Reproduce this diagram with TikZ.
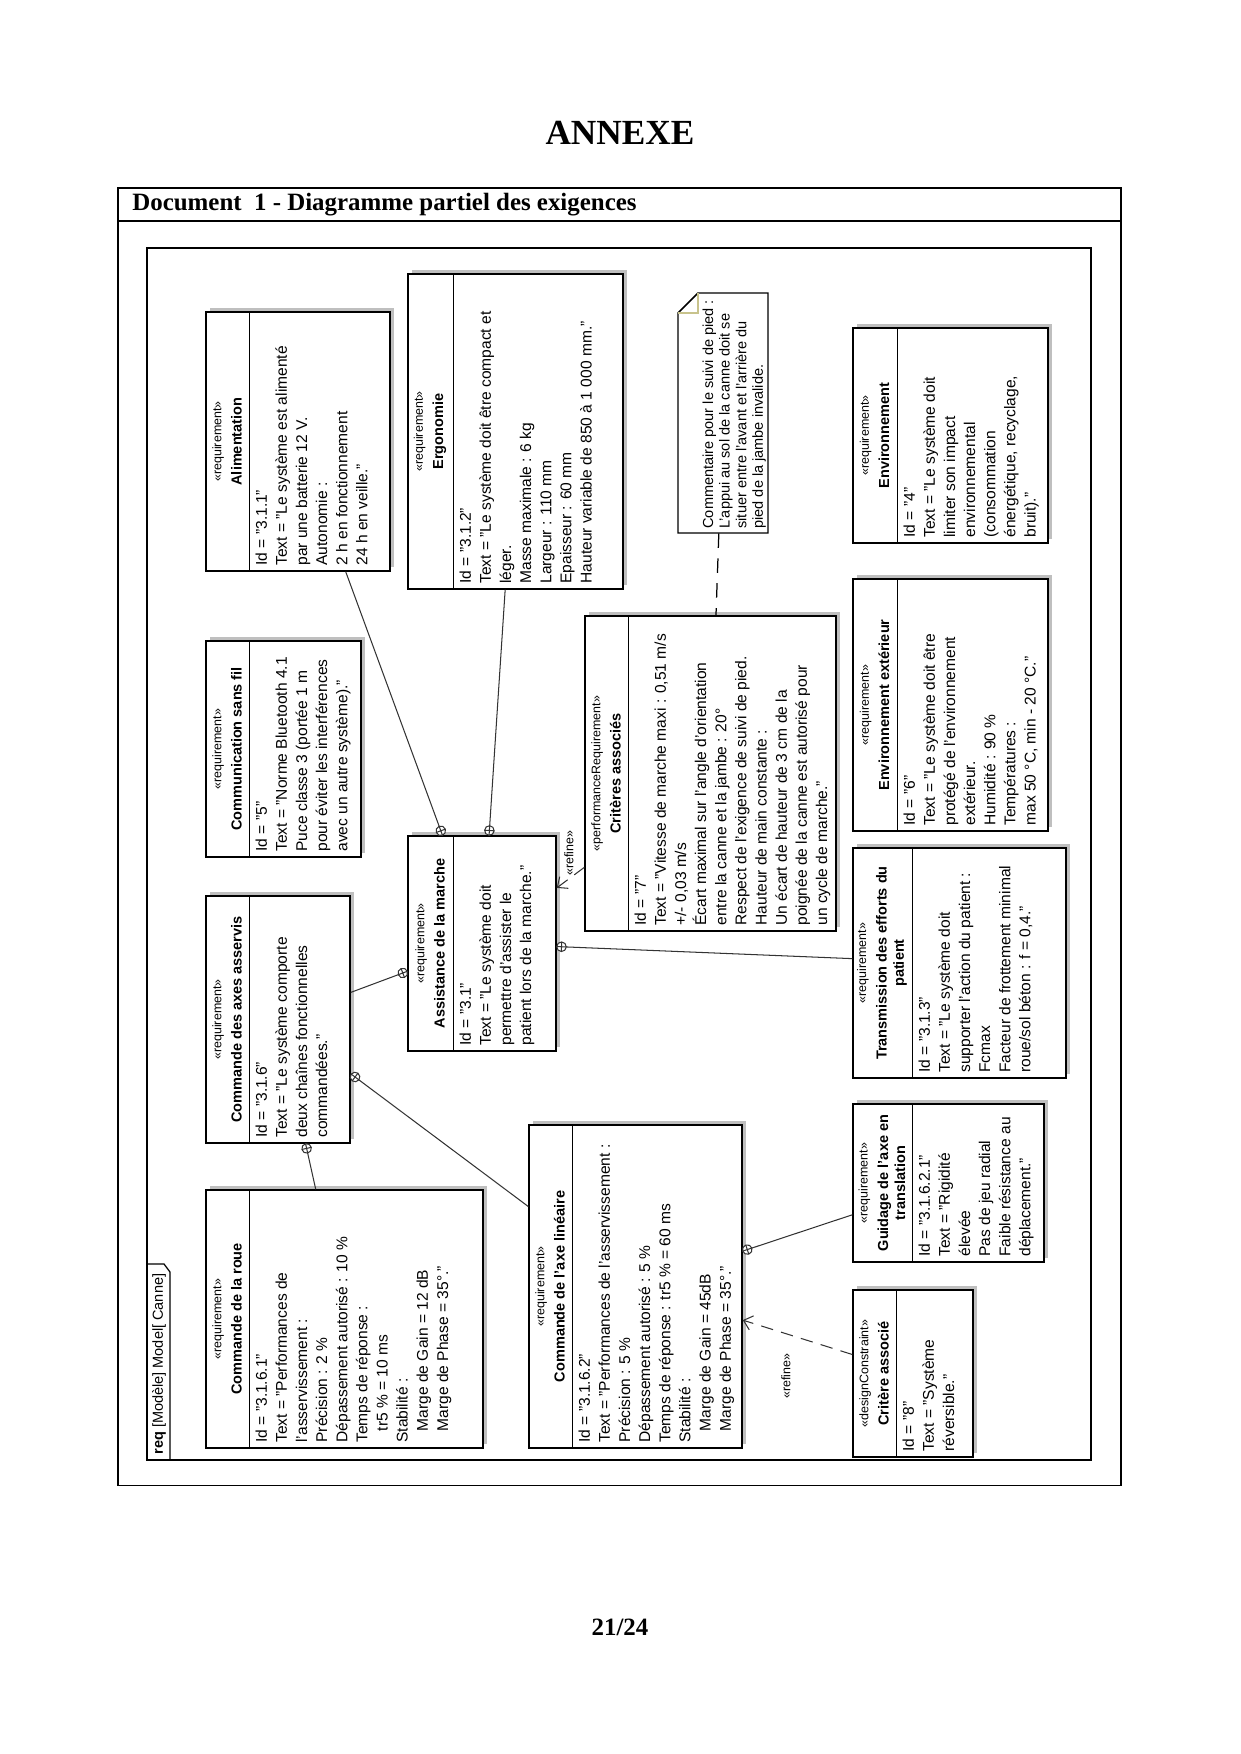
\documentclass[tikz,border=0pt]{standalone}
\usepackage{fontspec}
\setmainfont{Liberation Serif}
\setsansfont{Liberation Sans}
\usetikzlibrary{arrows.meta,fit,shadows,decorations.markings}
\definecolor{foldline}{RGB}{200,195,140}
\newcommand{\stereo}[1]{{\fontsize{6}{8.5}\selectfont\mdseries «#1»}\\[1.5pt]}

\begin{document}
\begin{tikzpicture}[x=0.016935cm,y=-0.016935cm,>={Straight Barb[length=4pt,width=7pt]},
  reqbox/.style={draw,line width=0.7pt,fill=white,inner sep=0pt,
    drop shadow={shadow xshift=2pt,shadow yshift=2pt,fill=black!25,opacity=1}},
  head/.style={rotate=90,align=center,inner sep=0pt,font=\sffamily\bfseries\fontsize{7}{8.3}\selectfont},
  body/.style={rotate=90,anchor=north west,align=left,inner xsep=1pt,inner ysep=2pt,
    font=\sffamily\fontsize{7.5}{9.7}\selectfont},
  contain/.style={line width=0.5pt,black!80,postaction={decorate},
    decoration={markings,mark=at position 1 with {
      \draw[fill=white] (-2.3pt,0) circle (2.3pt);
      \draw (-4.6pt,0) -- (0,0) (-2.3pt,-2.3pt) -- (-2.3pt,2.3pt);}}},
  refine/.style={line width=0.5pt,black!80,dash pattern=on 6pt off 4pt,->},
  notelink/.style={line width=0.6pt,dash pattern=on 7pt off 5pt},
  tag/.style={rotate=90,inner sep=0pt,font=\sffamily\fontsize{6}{7}\selectfont}]
\useasboundingbox (0,0) rectangle (1240,1754);

% titles and frames
\node[font=\bfseries\fontsize{17}{20}\selectfont] (annexe) at (620,133) {ANNEXE};
\node[anchor=west,inner sep=0pt,font=\bfseries\fontsize{12}{14}\selectfont] (doctitle) at (132,205)
  {Document\ \ 1 - Diagramme partiel des exigences};
\draw[line width=0.5pt] (118,188) rectangle (1121,1485);
\draw[line width=0.5pt] (118,221) -- (1121,221);
\draw[line width=0.8pt] (147,248) rectangle (1091,1460);
\draw[line width=0.6pt] (147,1264) -- (164,1264) -- (170,1272) -- (170,1460);
\node[tag,anchor=west,font=\sffamily\fontsize{7}{8}\selectfont] (frametag) at (159,1455)
  {\textbf{req} [Modèle] Model[ Canne]};
\node[font=\bfseries\fontsize{12}{14}\selectfont] (pagenum) at (620,1627) {21/24};

% Alimentation
\node[reqbox,fit={(206,312) (390,571)}] (alim) {};
\draw (249,312) -- (249,571);
\node[head] (alimH) at (227,441.5) {\stereo{requirement}Alimentation};
\node[body] (alimB) at (251,568) {Id = "3.1.1"\\Text = "Le système est alimenté\\par une batterie 12 V.\\Autonomie :\\2 h en fonctionnement\\24 h en veille."};

% Ergonomie
\node[reqbox,fit={(408,274) (623,589)}] (ergo) {};
\draw (453,274) -- (453,589);
\node[head] (ergoH) at (430,431.5) {\stereo{requirement}Ergonomie};
\node[body] (ergoB) at (455,586) {Id = "3.1.2"\\Text = "Le système doit être compact et\\léger.\\Masse maximale : 6 kg\\Largeur : 110 mm\\Epaisseur : 60 mm\\Hauteur variable de 850 à 1 000 mm."};

% Commentaire
\node[fit={(678,293) (768,533)},inner sep=0pt] (note) {};
\draw[line width=0.7pt,fill=white] (678,313) -- (698,293) -- (768,293) -- (768,533) -- (678,533) -- cycle;
\draw[foldline,line width=0.6pt] (678,313) -- (698,313) -- (698,293);
\node[body,font=\sffamily\fontsize{7}{8}\selectfont] (noteB) at (698,531) {Commentaire pour le suivi de pied :\\L'appui au sol de la canne doit se\\situer entre l'avant et l'arrière du\\pied de la jambe invalide.};

% Environnement
\node[reqbox,fit={(853,328) (1048,543)}] (envir) {};
\draw (897,328) -- (897,543);
\node[head] (envirH) at (874.5,435.5) {\stereo{requirement}Environnement};
\node[body] (envirB) at (899,540) {Id = "4"\\Text = "Le système doit\\limiter son impact\\environnemental\\(consommation\\énergétique, recyclage,\\bruit)."};

% Communication sans fil
\node[reqbox,fit={(206,641) (361,857)}] (comm) {};
\draw (249,641) -- (249,857);
\node[head] (commH) at (227,749) {\stereo{requirement}Communication sans fil};
\node[body] (commB) at (251,854) {Id = "5"\\Text = "Norme Bluetooth 4.1\\Puce classe 3 (portée 1 m\\pour éviter les interférences\\avec un autre système)."};

% Criteres associes
\node[reqbox,fit={(585,616) (836,931)}] (crit) {};
\draw (628,616) -- (628,931);
\node[head] (critH) at (606,773.5) {\stereo{performanceRequirement}Critères associés};
\node[body] (critB) at (630,928) {Id = "7"\\Text = "Vitesse de marche maxi : 0,51 m/s\\+/- 0,03 m/s\\Écart maximal sur l'angle d'orientation\\entre la canne et la jambe : 20°\\Respect de l'exigence de suivi de pied.\\Hauteur de main constante :\\Un écart de hauteur de 3 cm de la\\poignée de la canne est autorisé pour\\un cycle de marche."};

% Environnement exterieur
\node[reqbox,fit={(853,579) (1048,831)}] (envext) {};
\draw (897,579) -- (897,831);
\node[head] (envextH) at (874.5,705) {\stereo{requirement}Environnement extérieur};
\node[body] (envextB) at (899,828) {Id = "6"\\Text = "Le système doit être\\protégé de l'environnement\\extérieur.\\Humidité : 90 \%\\Températures :\\max 50 °C, min - 20 °C."};

% Assistance de la marche
\node[reqbox,fit={(408,836) (556,1051)}] (assist) {};
\draw (453,836) -- (453,1051);
\node[head] (assistH) at (430,943.5) {\stereo{requirement}Assistance de la marche};
\node[body] (assistB) at (455,1048) {Id = "3.1"\\Text = "Le système doit\\permettre d'assister le\\patient lors de la marche."};

% Commande des axes asservis
\node[reqbox,fit={(206,896) (350,1143)}] (axes) {};
\draw (249,896) -- (249,1143);
\node[head] (axesH) at (227,1019.5) {\stereo{requirement}Commande des axes asservis};
\node[body] (axesB) at (251,1140) {Id = "3.1.6"\\Text = "Le système comporte\\deux chaînes fonctionnelles\\commandées."};

% Transmission des efforts
\node[reqbox,fit={(853,848) (1066,1078)}] (trans) {};
\draw (912,848) -- (912,1078);
\node[head] (transH) at (882,963) {\stereo{requirement}Transmission des efforts du\\patient};
\node[body] (transB) at (914,1075) {Id = "3.1.3"\\Text = "Le système doit\\supporter l'action du patient :\\Fcmax\\Facteur de frottement minimal\\roue/sol béton : f = 0,4."};

% Commande de la roue
\node[reqbox,fit={(206,1190) (483,1448)}] (roue) {};
\draw (249,1190) -- (249,1448);
\node[head] (roueH) at (227,1319) {\stereo{requirement}Commande de la roue};
\node[body] (roueB) at (251,1445) {Id = "3.1.6.1"\\Text = "Performances de\\l'asservissement :\\Précision : 2 \%\\Dépassement autorisé : 10 \%\\Temps de réponse :\\\hspace*{5.5pt}tr5 \% = 10 ms\\Stabilité :\\\hspace*{5.5pt}Marge de Gain = 12 dB\\\hspace*{5.5pt}Marge de Phase = 35°."};

% Commande de l'axe lineaire
\node[reqbox,fit={(529,1125) (742,1448)}] (axelin) {};
\draw (572,1125) -- (572,1448);
\node[head] (axelinH) at (550,1286.5) {\stereo{requirement}Commande de l'axe linéaire};
\node[body] (axelinB) at (574,1445) {Id = "3.1.6.2"\\Text = "Performances de l'asservissement :\\Précision : 5 \%\\Dépassement autorisé : 5 \%\\Temps de réponse : tr5 \% = 60 ms\\Stabilité :\\\hspace*{5.5pt}Marge de Gain = 45dB\\\hspace*{5.5pt}Marge de Phase = 35°."};

% Guidage de l'axe en translation
\node[reqbox,fit={(853,1104) (1044,1262)}] (guid) {};
\draw (912,1104) -- (912,1262);
\node[head] (guidH) at (882,1183) {\stereo{requirement}Guidage de l'axe en\\translation};
\node[body] (guidB) at (914,1259) {Id = "3.1.6.2.1"\\Text = "Rigidité\\élevée\\Pas de jeu radial\\Faible résistance au\\déplacement."};

% Critere associe
\node[reqbox,fit={(853,1290) (973,1457)}] (critd) {};
\draw (896,1290) -- (896,1457);
\node[head] (critdH) at (874,1373.5) {\stereo{designConstraint}Critère associé};
\node[body] (critdB) at (898,1454) {Id = "8"\\Text = "Système\\réversible."};

% liens
\draw[contain] (alim) -- (assist);
\draw[contain] (ergo) -- (assist);
\draw[contain] (axes) -- (assist);
\draw[contain] (trans) -- (assist);
\draw[contain] (roue) -- (axes);
\draw[contain] (axelin) -- (axes);
\draw[contain] (guid) -- (axelin);
\draw[refine] (crit) -- (assist);
\draw[refine] (critd) -- (axelin);
\draw[notelink] (note) -- (crit);
\node[tag] (refA) at (569,853) {«refine»};
\node[tag] (refB) at (786,1376) {«refine»};
\end{tikzpicture}
\end{document}
